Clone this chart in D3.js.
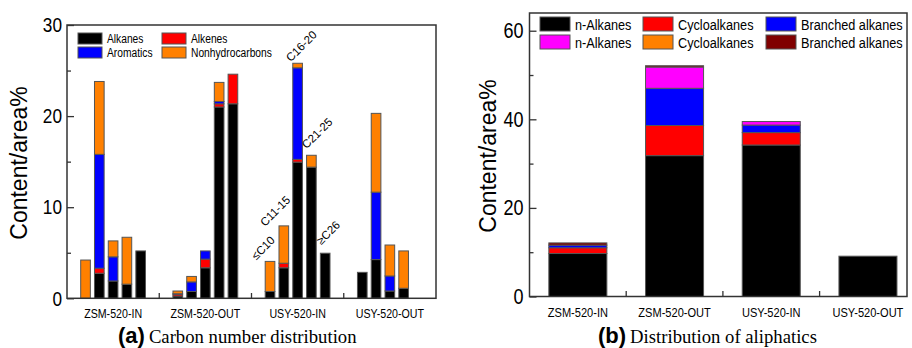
<!DOCTYPE html>
<html>
<head>
<meta charset="utf-8">
<script src="https://cdn.jsdelivr.net/npm/d3@7"></script>
<style>
  body { margin: 0; background: #fff; }
  svg { display: block; font-family: "Liberation Sans", Arial, sans-serif; }
</style>
</head>
<body>
<svg id="chart" width="912" height="348"></svg>
<script>
"use strict";

// ---- panel (a): carbon number distribution ----
var samples = ["ZSM-520-IN", "ZSM-520-OUT", "USY-520-IN", "USY-520-OUT"];
var carbonRanges = ["≤C10", "C11-15", "C16-20", "C21-25", "≥C26"];
// one value per bar: sample by sample, carbon range by carbon range
var alkanes =   [0, 2.75, 1.9, 1.55, 5.2,   0.25, 0.75, 3.35, 21.0, 21.35,  0.75, 3.35, 14.95, 14.4, 4.95,  2.85, 4.25, 0.8, 1.1, 0];
var alkenes =   [0, 0.55, 0, 0, 0,          0.2, 0, 0.95, 0.35, 3.25,       0, 0.5, 0.3, 0, 0,              0, 0, 0, 0, 0];
var aromatics = [0, 12.5, 2.65, 0, 0,       0.05, 1.05, 0.9, 0.25, 0,       0, 0, 10.05, 0, 0,              0, 7.4, 1.65, 0, 0];
var nonhydro =  [4.2, 8.0, 1.75, 5.15, 0,   0.3, 0.6, 0, 2.1, 0,            3.3, 4.1, 0.5, 1.3, 0,          0, 8.65, 3.4, 4.1, 0];
var seriesA = ["Alkanes", "Alkenes", "Aromatics", "Nonhydrocarbons"];
var colorsA = ["#000000", "#ff0000", "#0000ff", "#ff8000"];
var ticksA = [0, 10, 20, 30];
var minorA = [5, 15, 25];
var labelledSample = "USY-520-IN";

// ---- panel (b): distribution of aliphatics ----
var seriesB = ["n-Alkanes", "Cycloalkanes", "Branched alkanes", "n-Alkanes", "Cycloalkanes", "Branched alkanes"];
var colorsB = ["#000000", "#ff0000", "#0000ff", "#ff00ff", "#ff8000", "#800000"];
var nAlkanes =      [9.7, 31.8, 34.2, 9.1];
var cycloalkanes =  [1.3, 6.8, 2.8, 0];
var branched =      [0.6, 8.4, 1.7, 0];
var nAlkanes2 =     [0, 4.8, 0.8, 0];
var cycloalkanes2 = [0, 0, 0, 0];
var branched2 =     [0.5, 0.3, 0, 0];
var ticksB = [0, 20, 40, 60];
var minorB = [10, 30, 50];

var SQ = 0.82; // text in the figure is horizontally condensed
var svg = d3.select("#chart");

function squeezeAxisText(g, size) {
    g.selectAll("text")
        .attr("font-size", size)
        .attr("font-family", "Liberation Sans, Arial, sans-serif")
        .attr("fill", "#000")
        .each(function() {
            var t = d3.select(this);
            t.attr("x", (+t.attr("x") || 0) / SQ);
        })
        .attr("transform", "scale(" + SQ + ",1)");
}

function drawFrame(x0, x1, y0, y1) {
    svg.append("rect")
        .attr("x", x0).attr("y", y0)
        .attr("width", x1 - x0).attr("height", y1 - y0)
        .attr("fill", "none")
        .attr("stroke", "#333")
        .attr("stroke-width", 1.5);
}

function yTitle(x, y) {
    svg.append("text")
        .attr("transform", "translate(" + x + "," + y + ") rotate(-90)")
        .attr("text-anchor", "middle")
        .attr("font-size", 23)
        .text("Content/area%");
}

// legend laid out row by row
function legend(items, colors, cols, rows, sw, sh, fs) {
    items.forEach(function(name, i) {
        var c = i % cols.length, r = Math.floor(i / cols.length);
        var g = svg.append("g").attr("transform", "translate(" + cols[c] + "," + rows[r] + ")");
        g.append("rect")
            .attr("width", sw).attr("height", sh)
            .attr("fill", colors[i])
            .attr("stroke", "#555").attr("stroke-width", 1);
        g.append("text")
            .attr("transform", "translate(" + (sw + 5) + "," + (sh - 1) + ") scale(" + SQ + ",1)")
            .attr("font-size", fs)
            .text(name);
    });
}

// =============== panel (a) ===============
var xA = d3.scaleBand().domain(samples).range([67, 436]);
var xAin = d3.scaleBand().domain(carbonRanges).range([13.7, 78.5]).paddingInner(0.3);
var yA = d3.scaleLinear().domain([0, 30]).range([298.3, 25]);

var rowsA = alkanes.map(function(v, i) {
    return {
        sample: samples[Math.floor(i / carbonRanges.length)],
        range: carbonRanges[i % carbonRanges.length],
        Alkanes: v,
        Alkenes: alkenes[i],
        Aromatics: aromatics[i],
        Nonhydrocarbons: nonhydro[i]
    };
});
var stackA = d3.stack().keys(seriesA)(rowsA);

svg.append("g")
    .selectAll("g")
    .data(stackA)
    .join("g")
    .attr("fill", function(d, i) { return colorsA[i]; })
    .selectAll("rect")
    .data(function(d) { return d.filter(function(p) { return p[1] - p[0] > 0; }); })
    .join("rect")
    .attr("x", function(p) { return xA(p.data.sample) + xAin(p.data.range); })
    .attr("width", xAin.bandwidth())
    .attr("y", function(p) { return yA(p[1]); })
    .attr("height", function(p) { return yA(p[0]) - yA(p[1]); })
    .attr("stroke", "#555")
    .attr("stroke-width", 1);

// carbon number labels over one sample
var nudge = [[-9, -1], [-14, 1], [-2, -1], [0, -6], [1, -8]];
rowsA.filter(function(r) { return r.sample === labelledSample; }).forEach(function(r, k) {
    var top = r.Alkanes + r.Alkenes + r.Aromatics + r.Nonhydrocarbons;
    var x = xA(r.sample) + xAin(r.range) + nudge[k][0];
    var y = yA(top) + nudge[k][1];
    svg.append("text")
        .attr("transform", "translate(" + x + "," + y + ") rotate(-45)")
        .attr("font-size", 11.5)
        .text(r.range);
});

drawFrame(67, 436, 25, 298.3);

var gyA = svg.append("g").attr("transform", "translate(67,0)")
    .call(d3.axisLeft(yA).tickValues(ticksA).tickSize(-7).tickSizeOuter(0).tickPadding(5));
gyA.select(".domain").remove();
gyA.selectAll("line").attr("stroke", "#333").attr("stroke-width", 1.3);
squeezeAxisText(gyA, 21);

var gyAm = svg.append("g").attr("transform", "translate(67,0)")
    .call(d3.axisLeft(yA).tickValues(minorA).tickSize(-4).tickSizeOuter(0).tickFormat(""));
gyAm.select(".domain").remove();
gyAm.selectAll("line").attr("stroke", "#333").attr("stroke-width", 1.3);

var gxA = svg.append("g").attr("transform", "translate(0,298.3)")
    .call(d3.axisBottom(xA).tickSize(0).tickPadding(10));
gxA.select(".domain").remove();
squeezeAxisText(gxA, 13);

svg.append("g").selectAll("line")
    .data(samples.slice(1))
    .join("line")
    .attr("x1", function(s) { return xA(s); })
    .attr("x2", function(s) { return xA(s); })
    .attr("y1", 298.3).attr("y2", 293)
    .attr("stroke", "#333").attr("stroke-width", 1.3);

legend(seriesA, colorsA, [78, 162], [33, 47], 24, 11, 12.5);
yTitle(27, 163);

// =============== panel (b) ===============
var xB = d3.scaleBand().domain(samples).range([529.5, 916.3]).paddingInner(0.4).paddingOuter(0.2);
var yB = d3.scaleLinear().domain([0, 64]).range([296.5, 13]);

var keysB = d3.range(seriesB.length);
var colsB = [nAlkanes, cycloalkanes, branched, nAlkanes2, cycloalkanes2, branched2];
var rowsB = samples.map(function(s, i) {
    var row = {sample: s};
    keysB.forEach(function(k) { row[k] = colsB[k][i]; });
    return row;
});
var stackB = d3.stack().keys(keysB)(rowsB);

svg.append("g")
    .selectAll("g")
    .data(stackB)
    .join("g")
    .attr("fill", function(d, i) { return colorsB[i]; })
    .selectAll("rect")
    .data(function(d) { return d.filter(function(p) { return p[1] - p[0] > 0; }); })
    .join("rect")
    .attr("x", function(p) { return xB(p.data.sample); })
    .attr("width", xB.bandwidth())
    .attr("y", function(p) { return yB(p[1]); })
    .attr("height", function(p) { return yB(p[0]) - yB(p[1]); })
    .attr("stroke", "#555")
    .attr("stroke-width", 1);

drawFrame(529.5, 907, 13, 296.5);

var gyB = svg.append("g").attr("transform", "translate(529.5,0)")
    .call(d3.axisLeft(yB).tickValues(ticksB).tickSize(-7).tickSizeOuter(0).tickPadding(6));
gyB.select(".domain").remove();
gyB.selectAll("line").attr("stroke", "#333").attr("stroke-width", 1.3);
squeezeAxisText(gyB, 22);

var gyBm = svg.append("g").attr("transform", "translate(529.5,0)")
    .call(d3.axisLeft(yB).tickValues(minorB).tickSize(-4).tickSizeOuter(0).tickFormat(""));
gyBm.select(".domain").remove();
gyBm.selectAll("line").attr("stroke", "#333").attr("stroke-width", 1.3);

var gxB = svg.append("g").attr("transform", "translate(0,296.5)")
    .call(d3.axisBottom(xB).tickSize(0).tickPadding(11));
gxB.select(".domain").remove();
squeezeAxisText(gxB, 13.5);

var stepB = xB.step();
svg.append("g").selectAll("line")
    .data(samples.slice(1))
    .join("line")
    .attr("x1", function(s) { return xB(s) - stepB * 0.2; })
    .attr("x2", function(s) { return xB(s) - stepB * 0.2; })
    .attr("y1", 296.5).attr("y2", 291)
    .attr("stroke", "#333").attr("stroke-width", 1.3);

legend(seriesB, colorsB, [540, 643, 766], [17, 35], 30, 14, 15.5);
yTitle(496, 156);

// ---- captions ----
function caption(x, tag, words) {
    var t = svg.append("text").attr("x", x).attr("y", 343);
    t.append("tspan")
        .attr("font-weight", "bold")
        .attr("font-size", 22)
        .text(tag);
    t.append("tspan")
        .attr("font-family", "Liberation Serif, Times New Roman, serif")
        .attr("font-size", 18.7)
        .attr("dx", 4)
        .text(words);
}
caption(118, "(a)", "Carbon number distribution");
caption(598, "(b)", "Distribution of aliphatics");
</script>
</body>
</html>
